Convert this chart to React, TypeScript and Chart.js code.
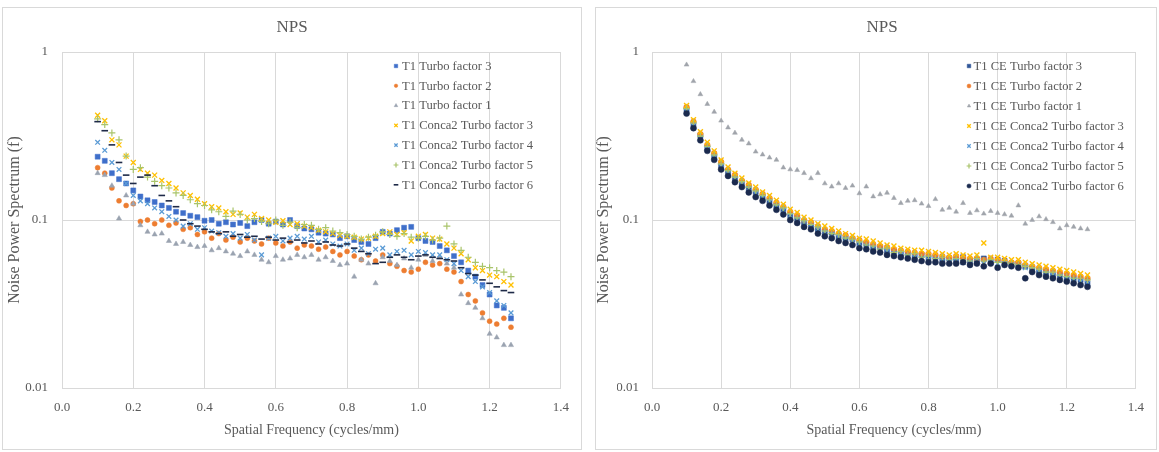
import React, { useEffect, useRef } from 'react';
import { Chart, registerables } from 'chart.js';
import { drawPoint } from 'chart.js/helpers';

Chart.register(...registerables);

// ---------- data ----------
const FREQ = [
  0.10, 0.12, 0.14, 0.16, 0.18, 0.20, 0.22, 0.24, 0.26, 0.28,
  0.30, 0.32, 0.34, 0.36, 0.38, 0.40, 0.42, 0.44, 0.46, 0.48,
  0.50, 0.52, 0.54, 0.56, 0.58, 0.60, 0.62, 0.64, 0.66, 0.68,
  0.70, 0.72, 0.74, 0.76, 0.78, 0.80, 0.82, 0.84, 0.86, 0.88,
  0.90, 0.92, 0.94, 0.96, 0.98, 1.00, 1.02, 1.04, 1.06, 1.08,
  1.10, 1.12, 1.14, 1.16, 1.18, 1.20, 1.22, 1.24, 1.26,
];

const Y_TICKS = [0.01, 0.1, 1];
const X_MIN = 0;
const X_MAX = 1.4;
const X_STEP = 0.2;

const LEFT_LABELS = [
  'T1 Turbo factor 3',
  'T1 Turbo factor 2',
  'T1 Turbo factor 1',
  'T1 Conca2 Turbo factor 3',
  'T1 Conca2 Turbo factor 4',
  'T1 Conca2 Turbo factor 5',
  'T1 Conca2 Turbo factor 6',
];

const RIGHT_LABELS = [
  'T1 CE Turbo factor 3',
  'T1 CE Turbo factor 2',
  'T1 CE Turbo factor 1',
  'T1 CE Conca2 Turbo factor 3',
  'T1 CE Conca2 Turbo factor 4',
  'T1 CE Conca2 Turbo factor 5',
  'T1 CE Conca2 Turbo factor 6',
];

// left panel series
const L_TF3 = [
  0.238, 0.225, 0.19, 0.175, 0.165, 0.15, 0.138, 0.131, 0.128, 0.122,
  0.118, 0.112, 0.11, 0.106, 0.104, 0.099, 0.1, 0.095, 0.097, 0.094,
  0.096, 0.092, 0.097, 0.1, 0.095, 0.098, 0.094, 0.1, 0.092, 0.089,
  0.088, 0.084, 0.083, 0.082, 0.078, 0.08, 0.076, 0.074, 0.072, 0.078,
  0.085, 0.083, 0.087, 0.09, 0.091, 0.078, 0.075, 0.074, 0.07, 0.066,
  0.061, 0.056, 0.05, 0.046, 0.041, 0.036, 0.031, 0.03, 0.026,
];
const L_TF2 = [
  0.205, 0.19, 0.155, 0.13, 0.122, 0.125, 0.098, 0.1, 0.095, 0.1,
  0.093, 0.096, 0.088, 0.09, 0.082, 0.085, 0.078, 0.083, 0.076, 0.079,
  0.074, 0.078, 0.075, 0.072, 0.078, 0.073, 0.07, 0.074, 0.068, 0.071,
  0.07, 0.067, 0.069, 0.065, 0.062, 0.065, 0.061, 0.058, 0.062, 0.057,
  0.062, 0.055, 0.053, 0.05, 0.049, 0.051, 0.056, 0.054, 0.055, 0.051,
  0.049, 0.043, 0.036, 0.033, 0.028, 0.025, 0.024, 0.026, 0.023,
];
const L_TF1 = [
  0.19, 0.185, 0.16, 0.102, 0.14, 0.125, 0.093, 0.085, 0.082, 0.083,
  0.075, 0.072, 0.074, 0.071, 0.069, 0.07, 0.066, 0.068, 0.065, 0.063,
  0.061, 0.065, 0.062, 0.058, 0.056, 0.061, 0.058, 0.059, 0.062, 0.06,
  0.062, 0.058, 0.06, 0.057, 0.054, 0.055, 0.046, 0.058, 0.055, 0.042,
  0.06, 0.057, 0.054, 0.059, 0.052, 0.058, 0.062, 0.057, 0.06, 0.055,
  0.052, 0.036, 0.032, 0.03, 0.026, 0.021, 0.02, 0.018, 0.018,
];
const L_C2TF3 = [
  0.42, 0.39, 0.3, 0.28, 0.24, 0.22, 0.2, 0.19, 0.185, 0.172,
  0.165, 0.155, 0.145, 0.14, 0.133, 0.125, 0.12, 0.118, 0.112, 0.108,
  0.11, 0.104, 0.108, 0.102, 0.1, 0.097, 0.099, 0.094, 0.095, 0.092,
  0.09, 0.087, 0.085, 0.083, 0.081, 0.08, 0.079, 0.077, 0.078, 0.08,
  0.083, 0.085, 0.082, 0.084, 0.075, 0.08, 0.082, 0.078, 0.077, 0.072,
  0.068, 0.063, 0.058, 0.052, 0.05, 0.047, 0.046, 0.043, 0.041,
];
const L_C2TF4 = [
  0.29, 0.26, 0.22, 0.2, 0.165, 0.14, 0.13, 0.125, 0.118, 0.112,
  0.105, 0.1, 0.092, 0.095, 0.088, 0.09, 0.086, 0.084, 0.08, 0.083,
  0.078, 0.082, 0.076, 0.062, 0.078, 0.08, 0.075, 0.078, 0.08, 0.077,
  0.08, 0.074, 0.076, 0.072, 0.07, 0.072, 0.066, 0.068, 0.063, 0.067,
  0.068, 0.062, 0.065, 0.066, 0.062, 0.065, 0.064, 0.062, 0.062, 0.058,
  0.055, 0.05, 0.046, 0.043, 0.04, 0.037, 0.033, 0.031, 0.028,
];
const L_C2TF5 = [
  0.4, 0.37, 0.33, 0.3, 0.24, 0.2, 0.205, 0.18, 0.17, 0.16,
  0.155, 0.145, 0.14, 0.132, 0.125, 0.122, 0.115, 0.112, 0.105, 0.113,
  0.108, 0.1, 0.102, 0.098, 0.095, 0.1, 0.093, 0.097, 0.09, 0.094,
  0.093, 0.088, 0.09, 0.086, 0.084, 0.082, 0.08, 0.077, 0.079, 0.081,
  0.085, 0.082, 0.08, 0.083, 0.079, 0.078, 0.08, 0.076, 0.078, 0.092,
  0.072, 0.066, 0.06, 0.056, 0.053, 0.052, 0.05, 0.049, 0.046,
];
const L_C2TF6 = [
  0.385, 0.34, 0.28, 0.22, 0.185, 0.165, 0.18, 0.185, 0.16, 0.14,
  0.13, 0.12, 0.1, 0.095, 0.092, 0.088, 0.085, 0.083, 0.085, 0.08,
  0.082, 0.079, 0.08, 0.077, 0.079, 0.076, 0.078, 0.074, 0.076, 0.073,
  0.075, 0.072, 0.074, 0.071, 0.07, 0.072, 0.068, 0.065, 0.063, 0.055,
  0.056, 0.06, 0.062, 0.06, 0.058, 0.061, 0.062, 0.06, 0.059, 0.058,
  0.057, 0.052, 0.048, 0.047, 0.044, 0.042, 0.04, 0.038, 0.037,
];

// right panel series
const R_TF3 = [
  0.455, 0.372, 0.318, 0.27, 0.24, 0.212, 0.195, 0.178, 0.167, 0.155,
  0.147, 0.138, 0.13, 0.122, 0.116, 0.107, 0.103, 0.097, 0.094, 0.089,
  0.085, 0.084, 0.08, 0.078, 0.077, 0.073, 0.072, 0.069, 0.069, 0.066,
  0.065, 0.063, 0.063, 0.061, 0.062, 0.06, 0.06, 0.058, 0.059, 0.058,
  0.06, 0.057, 0.058, 0.059, 0.056, 0.058, 0.057, 0.055, 0.055, 0.053,
  0.052, 0.05, 0.049, 0.047, 0.047, 0.045, 0.045, 0.044, 0.042,
];
const R_TF2 = [
  0.47, 0.385, 0.325, 0.28, 0.25, 0.222, 0.2, 0.186, 0.172, 0.162,
  0.152, 0.143, 0.135, 0.127, 0.12, 0.112, 0.107, 0.1, 0.097, 0.092,
  0.088, 0.086, 0.083, 0.081, 0.078, 0.076, 0.074, 0.072, 0.07, 0.069,
  0.067, 0.066, 0.065, 0.064, 0.063, 0.063, 0.062, 0.061, 0.06, 0.061,
  0.06, 0.059, 0.059, 0.058, 0.059, 0.058, 0.057, 0.056, 0.056, 0.054,
  0.053, 0.052, 0.051, 0.05, 0.049, 0.048, 0.047, 0.046, 0.045,
];
const R_TF1 = [
  0.84, 0.67, 0.56, 0.49, 0.44, 0.39, 0.355, 0.33, 0.3, 0.285,
  0.255, 0.245, 0.235, 0.228, 0.205, 0.2, 0.198, 0.19, 0.177, 0.19,
  0.165, 0.158, 0.165, 0.155, 0.16, 0.144, 0.158, 0.138, 0.142, 0.145,
  0.135, 0.126, 0.13, 0.131, 0.125, 0.121, 0.133, 0.115, 0.118, 0.112,
  0.126, 0.11, 0.114, 0.109, 0.113, 0.11, 0.108, 0.106, 0.122, 0.095,
  0.1, 0.105, 0.101, 0.097, 0.089, 0.093, 0.091, 0.089, 0.088,
];
const R_C2TF3 = [
  0.48, 0.395, 0.335, 0.29, 0.258, 0.228, 0.207, 0.19, 0.178, 0.166,
  0.157, 0.147, 0.14, 0.131, 0.124, 0.116, 0.111, 0.104, 0.1, 0.095,
  0.092, 0.089, 0.086, 0.083, 0.081, 0.078, 0.077, 0.075, 0.073, 0.071,
  0.07, 0.068, 0.067, 0.066, 0.066, 0.065, 0.064, 0.063, 0.062, 0.063,
  0.062, 0.061, 0.062, 0.073, 0.06, 0.06, 0.059, 0.058, 0.058, 0.056,
  0.055, 0.054, 0.053, 0.052, 0.051, 0.05, 0.049, 0.048, 0.047,
];
const R_C2TF4 = [
  0.445, 0.365, 0.308, 0.266, 0.236, 0.209, 0.19, 0.176, 0.164, 0.154,
  0.144, 0.136, 0.128, 0.121, 0.114, 0.106, 0.101, 0.096, 0.092, 0.088,
  0.084, 0.082, 0.079, 0.077, 0.074, 0.072, 0.07, 0.068, 0.066, 0.065,
  0.063, 0.062, 0.061, 0.06, 0.059, 0.058, 0.058, 0.057, 0.056, 0.057,
  0.056, 0.056, 0.057, 0.055, 0.056, 0.055, 0.055, 0.054, 0.053, 0.052,
  0.05, 0.049, 0.048, 0.047, 0.046, 0.045, 0.044, 0.043, 0.042,
];
const R_C2TF5 = [
  0.46, 0.378, 0.316, 0.274, 0.244, 0.216, 0.197, 0.18, 0.169, 0.157,
  0.149, 0.14, 0.132, 0.123, 0.118, 0.109, 0.103, 0.099, 0.094, 0.091,
  0.086, 0.083, 0.082, 0.078, 0.077, 0.074, 0.071, 0.07, 0.067, 0.068,
  0.064, 0.065, 0.062, 0.063, 0.06, 0.061, 0.059, 0.06, 0.058, 0.059,
  0.058, 0.057, 0.059, 0.057, 0.058, 0.056, 0.056, 0.055, 0.054, 0.053,
  0.052, 0.051, 0.049, 0.049, 0.047, 0.046, 0.045, 0.045, 0.044,
];
const R_C2TF6 = [
  0.43, 0.352, 0.298, 0.258, 0.228, 0.2, 0.183, 0.168, 0.157, 0.146,
  0.137, 0.13, 0.122, 0.115, 0.108, 0.1, 0.096, 0.091, 0.088, 0.083,
  0.08, 0.078, 0.075, 0.073, 0.071, 0.068, 0.067, 0.065, 0.064, 0.062,
  0.061, 0.06, 0.059, 0.058, 0.057, 0.056, 0.056, 0.055, 0.055, 0.055,
  0.056, 0.054, 0.055, 0.053, 0.055, 0.052, 0.054, 0.053, 0.052, 0.045,
  0.049, 0.047, 0.046, 0.045, 0.044, 0.043, 0.042, 0.041, 0.04,
];

const LEFT_VALUES = [L_TF3, L_TF2, L_TF1, L_C2TF3, L_C2TF4, L_C2TF5, L_C2TF6];
const RIGHT_VALUES = [R_TF3, R_TF2, R_TF1, R_C2TF3, R_C2TF4, R_C2TF5, R_C2TF6];

// ---------- styles ----------
const FONT = "'Liberation Serif', 'Times New Roman', serif";
const TEXT = '#595959';
const GRID = '#d9d9d9';

type MarkerStyle = { style: string; color: string; radius: number; bw: number; fill: boolean };

const LEFT_STYLES: MarkerStyle[] = [
  { style: 'rect', color: '#3f6fca', radius: 3.5, bw: 0.5, fill: true },
  { style: 'circle', color: '#ed7d31', radius: 2.5, bw: 0.5, fill: true },
  { style: 'triangle', color: '#9aa3b0', radius: 3, bw: 0.5, fill: true },
  { style: 'crossRot', color: '#ffc000', radius: 3.5, bw: 1.3, fill: false },
  { style: 'crossRot', color: '#5b9bd5', radius: 3.3, bw: 1.3, fill: false },
  { style: 'cross', color: '#a9c46a', radius: 3.5, bw: 1.2, fill: false },
  { style: 'line', color: '#1e2a48', radius: 3.3, bw: 1.6, fill: false },
];

const RIGHT_STYLES: MarkerStyle[] = [
  { style: 'rect', color: '#2f5597', radius: 3.6, bw: 0.5, fill: true },
  { style: 'circle', color: '#ed7d31', radius: 2.8, bw: 0.5, fill: true },
  { style: 'triangle', color: '#a0a4ab', radius: 2.8, bw: 0.5, fill: true },
  { style: 'crossRot', color: '#ffc000', radius: 3.5, bw: 1.4, fill: false },
  { style: 'crossRot', color: '#5b9bd5', radius: 3.4, bw: 1.3, fill: false },
  { style: 'cross', color: '#a9c46a', radius: 3.4, bw: 1.2, fill: false },
  { style: 'circle', color: '#1b2a4e', radius: 3, bw: 0.5, fill: true },
];

type PanelCfg = {
  left: number; top: number; width: number; height: number;
  padLeft: number; chartLeft: number; padRight: number; xAxisH: number;
  yTitlePad: number; yTickPad: number;
  legendLeft: number; legendTop: number; legendRow: number; legendGap: number;
  labels: string[]; values: number[][]; styles: MarkerStyle[];
};

const PANELS: PanelCfg[] = [
  {
    left: 2, top: 7, width: 580, height: 443,
    padLeft: 15, chartLeft: 59, padRight: 15, xAxisH: 61,
    yTitlePad: -11, yTickPad: 14,
    legendLeft: 334, legendTop: 14, legendRow: 19.8, legendGap: 6,
    labels: LEFT_LABELS, values: LEFT_VALUES, styles: LEFT_STYLES,
  },
  {
    left: 595, top: 7, width: 562, height: 443,
    padLeft: 21, chartLeft: 56, padRight: 9, xAxisH: 61,
    yTitlePad: -21, yTickPad: 13,
    legendLeft: 317, legendTop: 14, legendRow: 20, legendGap: 4.5,
    labels: RIGHT_LABELS, values: RIGHT_VALUES, styles: RIGHT_STYLES,
  },
];

const insideLegend = {
  id: 'insideLegend',
  afterDraw(chart: any, _args: any, opts: any) {
    const { ctx, chartArea } = chart;
    ctx.save();
    chart.data.datasets.forEach((ds: any, i: number) => {
      const x = chartArea.left + opts.left;
      const y = chartArea.top + opts.top + i * opts.row;
      ctx.fillStyle = ds.backgroundColor;
      ctx.strokeStyle = ds.borderColor;
      ctx.lineWidth = ds.pointBorderWidth;
      drawPoint(ctx, {
        pointStyle: ds.pointStyle,
        rotation: 0,
        radius: ds.pointRadius * 0.7,
        borderWidth: ds.pointBorderWidth,
      } as any, x, y);
      ctx.fillStyle = TEXT;
      ctx.font = `12.6px ${FONT}`;
      ctx.textAlign = 'left';
      ctx.textBaseline = 'middle';
      ctx.fillText(ds.label, x + opts.gap, y + 0.5);
    });
    ctx.restore();
  },
};

function NpsPanel({ cfg }: { cfg: PanelCfg }) {
  const ref = useRef<HTMLCanvasElement>(null);

  useEffect(() => {
    const datasets = cfg.labels.map((label, si) => {
      const st = cfg.styles[si];
      const vals = cfg.values[si];
      return {
        label,
        data: FREQ.map((x, i) => ({ x, y: vals[i] })),
        showLine: false,
        pointStyle: st.style,
        pointRadius: st.radius,
        pointHoverRadius: st.radius,
        pointBorderWidth: st.bw,
        backgroundColor: st.fill ? st.color : 'rgba(0,0,0,0)',
        borderColor: st.color,
        order: cfg.labels.length - si,
      };
    });

    const chart = new Chart(ref.current as HTMLCanvasElement, {
      type: 'scatter',
      data: { datasets } as any,
      plugins: [insideLegend],
      options: {
        animation: false,
        responsive: true,
        maintainAspectRatio: false,
        layout: { padding: { left: cfg.padLeft, right: cfg.padRight, top: 0, bottom: 0 } },
        plugins: {
          legend: { display: false },
          tooltip: { enabled: false },
          title: {
            display: true,
            text: 'NPS',
            color: TEXT,
            font: { family: FONT, size: 17, weight: 'normal' },
            padding: { top: 9, bottom: 14.6 },
          },
          insideLegend: {
            left: cfg.legendLeft,
            top: cfg.legendTop,
            row: cfg.legendRow,
            gap: cfg.legendGap,
          },
        } as any,
        scales: {
          x: {
            type: 'linear',
            min: X_MIN,
            max: X_MAX,
            afterFit: (scale: any) => { scale.height = cfg.xAxisH; },
            ticks: {
              stepSize: X_STEP,
              color: TEXT,
              padding: 12,
              font: { family: FONT, size: 13 },
              callback: (v: any) => Number(v).toFixed(1),
            },
            grid: { color: GRID, drawTicks: false, lineWidth: 1 },
            border: { display: true, color: GRID },
            title: {
              display: true,
              text: 'Spatial Frequency (cycles/mm)',
              color: TEXT,
              font: { family: FONT, size: 14 },
              padding: { top: 0, bottom: 10 },
            },
          },
          y: {
            type: 'logarithmic',
            min: Y_TICKS[0],
            max: Y_TICKS[Y_TICKS.length - 1],
            afterFit: (scale: any) => { scale.width = cfg.chartLeft - cfg.padLeft; },
            afterBuildTicks: (scale: any) => {
              scale.ticks = Y_TICKS.map((value) => ({ value }));
            },
            ticks: {
              color: TEXT,
              padding: cfg.yTickPad,
              font: { family: FONT, size: 13 },
              callback: (v: any) => String(v),
            },
            grid: { color: GRID, drawTicks: false, lineWidth: 1 },
            border: { display: true, color: GRID },
            title: {
              display: true,
              text: 'Noise Power Spectrum (f)',
              color: TEXT,
              font: { family: FONT, size: 16, lineHeight: 1 },
              padding: { top: cfg.yTitlePad, bottom: 0 },
            },
          },
        },
      } as any,
    });
    return () => chart.destroy();
  }, [cfg]);

  return (
    <div
      style={{
        position: 'absolute',
        left: cfg.left,
        top: cfg.top,
        width: cfg.width,
        height: cfg.height,
        border: `1px solid ${GRID}`,
        boxSizing: 'border-box',
        background: '#ffffff',
      }}
    >
      <div style={{ position: 'relative', width: cfg.width - 2, height: cfg.height - 2 }}>
        <canvas ref={ref} />
      </div>
    </div>
  );
}

export default function App() {
  return (
    <div style={{ position: 'absolute', left: 0, top: 0, width: 1159, height: 452, background: '#ffffff' }}>
      {PANELS.map((p, i) => (
        <NpsPanel key={i} cfg={p} />
      ))}
    </div>
  );
}
